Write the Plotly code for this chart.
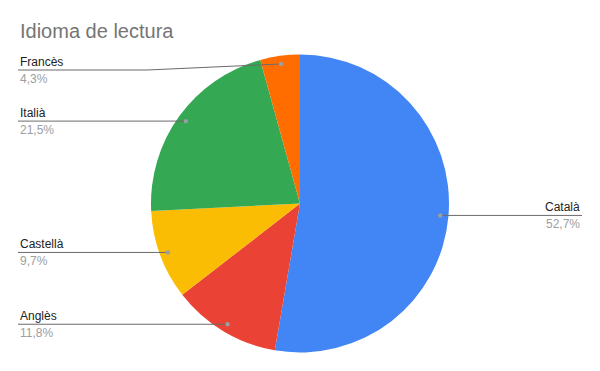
import math
import plotly.graph_objects as go

# ---- data ----
languages = ["Català", "Anglès", "Castellà", "Italià", "Francès"]
shares = [52.7, 11.8, 9.7, 21.5, 4.3]
pct_labels = ["52,7%", "11,8%", "9,7%", "21,5%", "4,3%"]
colors = ["#4285F4", "#EA4335", "#FBBC04", "#34A853", "#FF6D01"]
title_text = "Idioma de lectura"

# ---- layout constants (pixels) ----
W, H = 600, 371
CX, CY, R = 300.0, 203.5, 149.0
DOT_FRAC = 0.945
LEFT_X, RIGHT_X = 18.0, 582.0
MIN_LINE_Y = 70.0
BEND_X = 147.0
FONT = "Arial, Liberation Sans, sans-serif"


def px(x):
    return x / W


def py(y):
    return 1 - y / H


fig = go.Figure()
fig.add_trace(go.Pie(
    labels=languages,
    values=shares,
    marker=dict(colors=colors, line=dict(color="white", width=0)),
    sort=False,
    direction="clockwise",
    rotation=0,
    textinfo="none",
    hoverinfo="label+percent",
    showlegend=False,
    domain=dict(x=[px(CX - R), px(CX + R)], y=[py(CY + R), py(CY - R)]),
))

shapes = []
annotations = []
total = sum(shares)
cum = 0.0
for name, val, pl in zip(languages, shares, pct_labels):
    mid = (cum + val / 2) / total * 2 * math.pi
    cum += val
    dx = math.sin(mid) * R * DOT_FRAC
    dy = -math.cos(mid) * R * DOT_FRAC
    dot_x, dot_y = CX + dx, CY + dy
    right = dx > 0
    line_y = max(dot_y, MIN_LINE_Y)
    end_x = RIGHT_X if right else LEFT_X
    if abs(line_y - dot_y) > 0.5:
        path = (f"M {px(end_x)},{py(line_y)} L {px(BEND_X)},{py(line_y)} "
                f"L {px(dot_x)},{py(dot_y)}")
    else:
        path = f"M {px(end_x)},{py(line_y)} L {px(dot_x)},{py(dot_y)}"
    shapes.append(dict(type="path", xref="paper", yref="paper", path=path,
                       line=dict(color="#6b6b6b", width=1)))
    shapes.append(dict(type="circle", xref="paper", yref="paper",
                       x0=px(dot_x - 2.2), x1=px(dot_x + 2.2),
                       y0=py(dot_y + 2.2), y1=py(dot_y - 2.2),
                       fillcolor="#9e9e9e", line=dict(width=0)))
    anchor = "right" if right else "left"
    annotations.append(dict(xref="paper", yref="paper", x=px(end_x), y=py(line_y - 8),
                            text=name, showarrow=False, xanchor=anchor, yanchor="middle",
                            font=dict(family=FONT, size=12, color="#222222")))
    annotations.append(dict(xref="paper", yref="paper", x=px(end_x), y=py(line_y + 9),
                            text=pl, showarrow=False, xanchor=anchor, yanchor="middle",
                            font=dict(family=FONT, size=12, color="#9e9e9e")))

annotations.append(dict(xref="paper", yref="paper", x=px(18), y=py(31),
                        text=title_text, showarrow=False, xanchor="left", yanchor="middle",
                        font=dict(family=FONT, size=20, color="#757575")))

fig.update_layout(
    width=W, height=H,
    margin=dict(l=0, r=0, t=0, b=0),
    paper_bgcolor="white",
    plot_bgcolor="white",
    shapes=shapes,
    annotations=annotations,
)

fig.write_html("out.html")
